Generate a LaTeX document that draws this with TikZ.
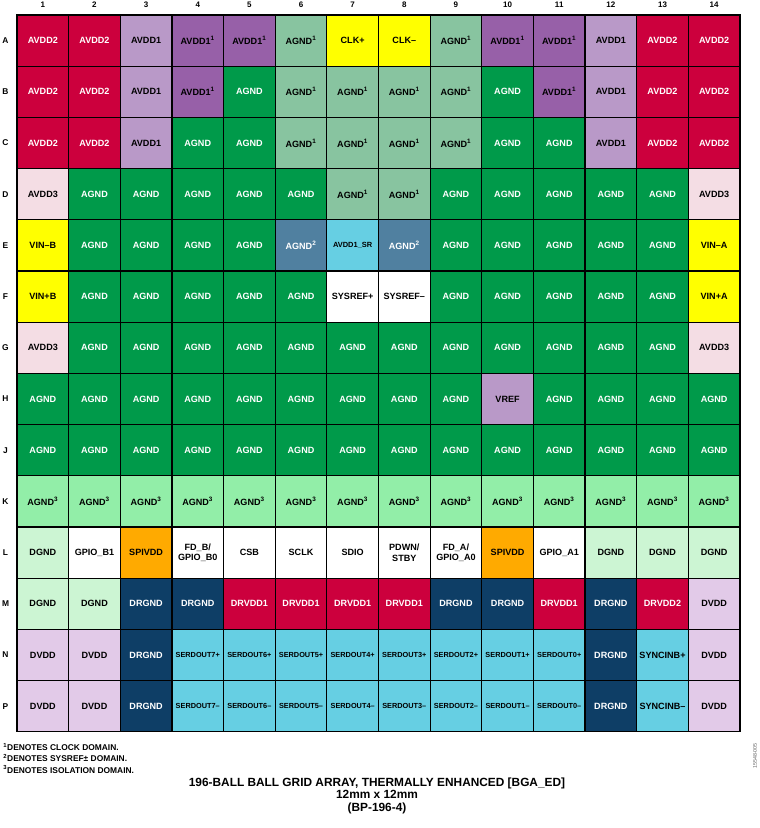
\documentclass[tikz,border=0pt]{standalone}
\usepackage{fontspec}
\setmainfont{Liberation Sans}
\definecolor{pinred}{RGB}{204,0,61}
\definecolor{pinlilac}{RGB}{185,153,200}
\definecolor{pinpurple}{RGB}{151,96,168}
\definecolor{pinsage}{RGB}{136,196,160}
\definecolor{pinyellow}{RGB}{255,255,0}
\definecolor{pingreen}{RGB}{0,154,74}
\definecolor{pinpink}{RGB}{244,221,228}
\definecolor{pinsteel}{RGB}{80,128,160}
\definecolor{pincyan}{RGB}{102,207,227}
\definecolor{pinmint}{RGB}{146,238,168}
\definecolor{pinpale}{RGB}{204,245,211}
\definecolor{pinorange}{RGB}{255,170,0}
\definecolor{pinnavy}{RGB}{14,62,102}
\definecolor{pinlavender}{RGB}{226,202,232}

\begin{document}
\begin{tikzpicture}[%
			x=0.75pt,
			y=-0.75pt,
			pinbox/.style={%
				draw=black,
				line width=0.9pt,
				minimum width=38.73pt,
				minimum height=38.4pt,
				inner sep=0pt,
				align=center,
				font=\fontsize{6.8}{7.8}\selectfont\bfseries
			},
			avddtwo/.style={pinbox, fill=pinred, text=white},
			avddone/.style={pinbox, fill=pinlilac},
			avddclk/.style={pinbox, fill=pinpurple},
			agndclk/.style={pinbox, fill=pinsage},
			clkin/.style={pinbox, fill=pinyellow},
			agnd/.style={pinbox, fill=pingreen, text=white},
			avddthree/.style={pinbox, fill=pinpink},
			vinput/.style={pinbox, fill=pinyellow},
			agndsys/.style={pinbox, fill=pinsteel, text=white},
			avddsr/.style={pinbox, fill=pincyan, font=\fontsize{5.6}{6.4}\selectfont\bfseries},
			sysref/.style={pinbox, fill=white},
			vrefpin/.style={pinbox, fill=pinlilac},
			agndiso/.style={pinbox, fill=pinmint},
			dgnd/.style={pinbox, fill=pinpale},
			ctrlpin/.style={pinbox, fill=white},
			spivdd/.style={pinbox, fill=pinorange},
			drgnd/.style={pinbox, fill=pinnavy, text=white},
			drvdd/.style={pinbox, fill=pinred, text=white},
			dvdd/.style={pinbox, fill=pinlavender},
			serdout/.style={pinbox, fill=pincyan, font=\fontsize{5.5}{6.2}\selectfont\bfseries},
			syncpin/.style={pinbox, fill=pincyan},
			collabel/.style={inner sep=0pt, font=\fontsize{6}{7}\selectfont\bfseries},
			rowlabel/.style={inner sep=0pt, font=\fontsize{6.3}{7}\selectfont\bfseries},
			padnote/.style={anchor=base west, inner sep=0pt, font=\fontsize{6.3}{7}\selectfont\bfseries},
			padtitle/.style={anchor=base, inner sep=0pt, font=\fontsize{8.9}{10}\selectfont\bfseries}
			]
			\useasboundingbox (0,0) rectangle (760,828);

			% ball columns
			\foreach \pc in {1,...,14}
				\node[collabel] (col\pc) at ({\pc*51.64-8.82}, 5) {\pc};

			% ball rows, one entry per ball: style/name
			\foreach \rl/\pins [count=\pr] in {
				A/{avddtwo/AVDD2, avddtwo/AVDD2, avddone/AVDD1, avddclk/AVDD1\textsuperscript{1}, avddclk/AVDD1\textsuperscript{1}, agndclk/AGND\textsuperscript{1}, clkin/CLK+, clkin/CLK–, agndclk/AGND\textsuperscript{1}, avddclk/AVDD1\textsuperscript{1}, avddclk/AVDD1\textsuperscript{1}, avddone/AVDD1, avddtwo/AVDD2, avddtwo/AVDD2},
				B/{avddtwo/AVDD2, avddtwo/AVDD2, avddone/AVDD1, avddclk/AVDD1\textsuperscript{1}, agnd/AGND, agndclk/AGND\textsuperscript{1}, agndclk/AGND\textsuperscript{1}, agndclk/AGND\textsuperscript{1}, agndclk/AGND\textsuperscript{1}, agnd/AGND, avddclk/AVDD1\textsuperscript{1}, avddone/AVDD1, avddtwo/AVDD2, avddtwo/AVDD2},
				C/{avddtwo/AVDD2, avddtwo/AVDD2, avddone/AVDD1, agnd/AGND, agnd/AGND, agndclk/AGND\textsuperscript{1}, agndclk/AGND\textsuperscript{1}, agndclk/AGND\textsuperscript{1}, agndclk/AGND\textsuperscript{1}, agnd/AGND, agnd/AGND, avddone/AVDD1, avddtwo/AVDD2, avddtwo/AVDD2},
				D/{avddthree/AVDD3, agnd/AGND, agnd/AGND, agnd/AGND, agnd/AGND, agnd/AGND, agndclk/AGND\textsuperscript{1}, agndclk/AGND\textsuperscript{1}, agnd/AGND, agnd/AGND, agnd/AGND, agnd/AGND, agnd/AGND, avddthree/AVDD3},
				E/{vinput/VIN–B, agnd/AGND, agnd/AGND, agnd/AGND, agnd/AGND, agndsys/AGND\textsuperscript{2}, avddsr/AVDD1\_SR, agndsys/AGND\textsuperscript{2}, agnd/AGND, agnd/AGND, agnd/AGND, agnd/AGND, agnd/AGND, vinput/VIN–A},
				F/{vinput/VIN+B, agnd/AGND, agnd/AGND, agnd/AGND, agnd/AGND, agnd/AGND, sysref/SYSREF+, sysref/SYSREF–, agnd/AGND, agnd/AGND, agnd/AGND, agnd/AGND, agnd/AGND, vinput/VIN+A},
				G/{avddthree/AVDD3, agnd/AGND, agnd/AGND, agnd/AGND, agnd/AGND, agnd/AGND, agnd/AGND, agnd/AGND, agnd/AGND, agnd/AGND, agnd/AGND, agnd/AGND, agnd/AGND, avddthree/AVDD3},
				H/{agnd/AGND, agnd/AGND, agnd/AGND, agnd/AGND, agnd/AGND, agnd/AGND, agnd/AGND, agnd/AGND, agnd/AGND, vrefpin/VREF, agnd/AGND, agnd/AGND, agnd/AGND, agnd/AGND},
				J/{agnd/AGND, agnd/AGND, agnd/AGND, agnd/AGND, agnd/AGND, agnd/AGND, agnd/AGND, agnd/AGND, agnd/AGND, agnd/AGND, agnd/AGND, agnd/AGND, agnd/AGND, agnd/AGND},
				K/{agndiso/AGND\textsuperscript{3}, agndiso/AGND\textsuperscript{3}, agndiso/AGND\textsuperscript{3}, agndiso/AGND\textsuperscript{3}, agndiso/AGND\textsuperscript{3}, agndiso/AGND\textsuperscript{3}, agndiso/AGND\textsuperscript{3}, agndiso/AGND\textsuperscript{3}, agndiso/AGND\textsuperscript{3}, agndiso/AGND\textsuperscript{3}, agndiso/AGND\textsuperscript{3}, agndiso/AGND\textsuperscript{3}, agndiso/AGND\textsuperscript{3}, agndiso/AGND\textsuperscript{3}},
				L/{dgnd/DGND, ctrlpin/GPIO\_B1, spivdd/SPIVDD, ctrlpin/{FD\_B/\\GPIO\_B0}, ctrlpin/CSB, ctrlpin/SCLK, ctrlpin/SDIO, ctrlpin/{PDWN/\\STBY}, ctrlpin/{FD\_A/\\GPIO\_A0}, spivdd/SPIVDD, ctrlpin/GPIO\_A1, dgnd/DGND, dgnd/DGND, dgnd/DGND},
				M/{dgnd/DGND, dgnd/DGND, drgnd/DRGND, drgnd/DRGND, drvdd/DRVDD1, drvdd/DRVDD1, drvdd/DRVDD1, drvdd/DRVDD1, drgnd/DRGND, drgnd/DRGND, drvdd/DRVDD1, drgnd/DRGND, drvdd/DRVDD2, dvdd/DVDD},
				N/{dvdd/DVDD, dvdd/DVDD, drgnd/DRGND, serdout/SERDOUT7+, serdout/SERDOUT6+, serdout/SERDOUT5+, serdout/SERDOUT4+, serdout/SERDOUT3+, serdout/SERDOUT2+, serdout/SERDOUT1+, serdout/SERDOUT0+, drgnd/DRGND, syncpin/SYNCINB+, dvdd/DVDD},
				P/{dvdd/DVDD, dvdd/DVDD, drgnd/DRGND, serdout/SERDOUT7–, serdout/SERDOUT6–, serdout/SERDOUT5–, serdout/SERDOUT4–, serdout/SERDOUT3–, serdout/SERDOUT2–, serdout/SERDOUT1–, serdout/SERDOUT0–, drgnd/DRGND, syncpin/SYNCINB–, dvdd/DVDD}}{
				\node[rowlabel] (row\rl) at (5.5, {\pr*51.2-10.6}) {\rl};
				\foreach \sty/\lbl [count=\pc] in \pins
					\node[\sty] (\rl\pc) at ({\pc*51.64-8.82}, {\pr*51.2-10.6}) {\lbl};
			}

			% notes and caption
			\node[padnote] (note1) at (3, 750.5) {\textsuperscript{1}DENOTES CLOCK DOMAIN.};
			\node[padnote] (note2) at (3, 761.8) {\textsuperscript{2}DENOTES SYSREF± DOMAIN.};
			\node[padnote] (note3) at (3, 773) {\textsuperscript{3}DENOTES ISOLATION DOMAIN.};
			\node[padtitle] (title1) at (377, 786) {196-BALL BALL GRID ARRAY, THERMALLY ENHANCED [BGA\_ED]};
			\node[padtitle] (title2) at (377, 798.5) {12mm x 12mm};
			\node[padtitle] (title3) at (377, 811) {(BP-196-4)};
			\node[rotate=90, inner sep=0pt, text=black!60, font=\fontsize{4}{5}\selectfont] (figno) at (755, 756) {15548-005};
 			\end{tikzpicture}
\end{document}
